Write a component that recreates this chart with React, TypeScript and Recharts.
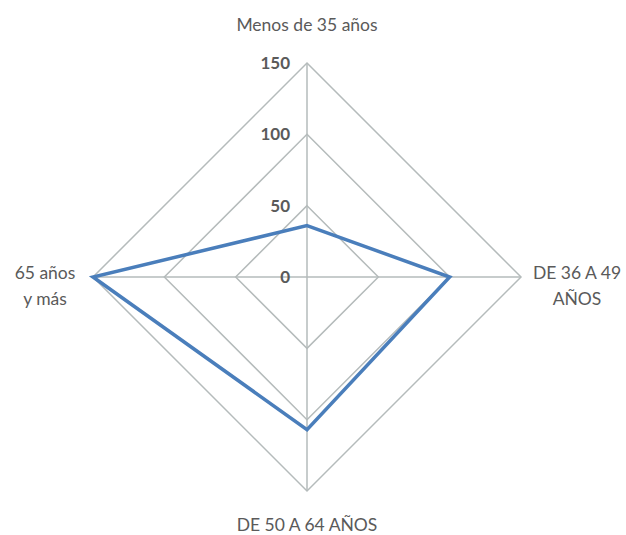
import { RadarChart, Radar, PolarGrid, PolarAngleAxis, PolarRadiusAxis } from "recharts";

const categories = ["Menos de 35 años", "DE 36 A 49 AÑOS", "DE 50 A 64 AÑOS", "65 años y más"];
const labelLines = [["Menos de 35 años"], ["DE 36 A 49", "AÑOS"], ["DE 50 A 64 AÑOS"], ["65 años", "y más"]];
const values = [36, 100, 107, 150];
const radiusTicks = [0, 50, 100, 150];

const data = categories.map((c, i) => ({ name: c, value: values[i] }));

const GRID = "#b5bbbb";
const TEXT = "#5a5a5a";

function AngleTick(props: any) {
  const { x, y, payload, index } = props;
  const lines = labelLines[index] || [payload.value];
  // nudge each label outward depending on which side it sits
  let dx = 0;
  let dy = 0;
  if (index === 0) dy = -24;
  if (index === 1) { dx = 48; dy = 2; }
  if (index === 2) dy = 32;
  if (index === 3) { dx = -40; dy = 2; }
  return (
    <text x={x + dx} y={y + dy} textAnchor="middle" fill={TEXT} fontSize={17.5} fontFamily="Lato">
      {lines.map((l: string, i: number) => (
        <tspan key={i} x={x + dx} dy={i === 0 ? 0 : 26}>{l}</tspan>
      ))}
    </text>
  );
}

function RadiusTick(props: any) {
  const { x, y, payload } = props;
  return (
    <text x={x - 17} y={y + 6} textAnchor="end" fill={TEXT} fontSize={17} fontWeight="bold" fontFamily="Lato">
      {payload.value}
    </text>
  );
}

export default function App() {
  return (
    <div style={{ position: "absolute", left: 0, top: 0, width: 626, height: 535, background: "#fff" }}>
      <RadarChart width={626} height={535} cx={307} cy={277} outerRadius={214} data={data} margin={{ top: 0, right: 0, bottom: 0, left: 0 }}>
        <PolarGrid gridType="polygon" stroke={GRID} strokeWidth={1.5} strokeOpacity={1} />
        <PolarAngleAxis dataKey="name" tick={<AngleTick />} tickLine={false} axisLine={false} />
        <PolarRadiusAxis
          angle={90}
          domain={[0, 150]}
          ticks={radiusTicks}
          tick={<RadiusTick />}
          axisLine={false}
          tickLine={false}
        />
        <Radar dataKey="value" stroke="#4a7ebb" strokeWidth={3.5} fill="none" fillOpacity={0} isAnimationActive={false} />
      </RadarChart>
    </div>
  );
}
